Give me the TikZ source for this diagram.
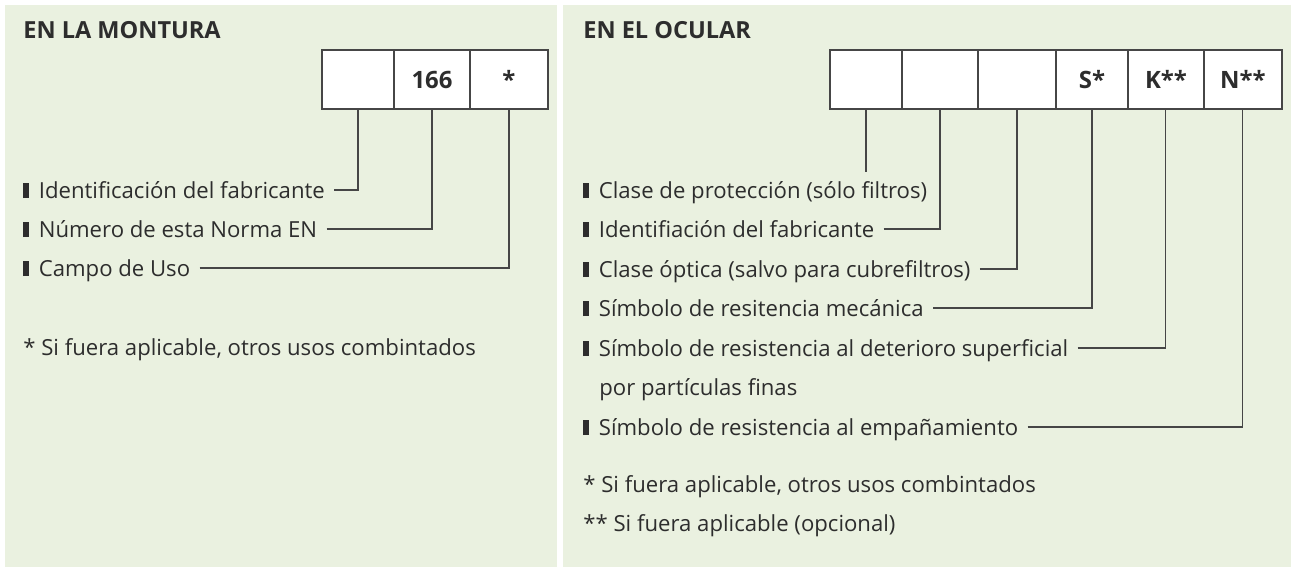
\documentclass[tikz,border=0pt]{standalone}
\usepackage{fontspec}
\setmainfont{Open Sans}
\usetikzlibrary{positioning}

\definecolor{panelgreen}{RGB}{234,241,224}
\definecolor{inkgray}{RGB}{45,45,45}
\definecolor{linegray}{RGB}{70,70,70}

\newcommand{\bul}{\rule{0.11cm}{0.3cm}\hspace{0.2cm}}

\tikzset{
  heading/.style={anchor=base west, inner sep=0, text=inkgray,
                  font=\fontsize{13.4}{16}\selectfont\bfseries},
  cell/.style={draw=linegray, line width=0.8pt, fill=white, inner sep=0,
               outer sep=0, minimum height=1.18cm, text=inkgray,
               font=\fontsize{13.6}{16}\selectfont\bfseries},
  item/.style={anchor=base west, inner sep=0, text height=0.32cm,
               text depth=0pt, text=inkgray,
               font=\fontsize{12.6}{14}\selectfont},
  conn/.style={draw=linegray, line width=0.6pt}
}

\begin{document}
\begin{tikzpicture}[x=0.02cm, y=-0.02cm]
  \useasboundingbox (0,0) rectangle (1297,572);
  \fill [panelgreen] (5,5) rectangle (557,567);
  \fill [panelgreen] (563,5) rectangle (1291,567);

  % frame
  \node [heading] (tmont) at (23,38) {EN LA MONTURA};
  \node [cell, minimum width=1.44cm] (m1) at (358,79.5) {};
  \node [cell, minimum width=1.52cm, right=0pt of m1] (m2) {166};
  \node [cell, minimum width=1.56cm, right=0pt of m2] (m3) {*};

  \node [item] (l1) at (23,198) {\bul Identificación del fabricante};
  \node [item] (l2) at (23,237) {\bul Número de esta Norma EN};
  \node [item] (l3) at (23,276) {\bul Campo de Uso};
  \node [item] (lnote) at (23,355) {* Si fuera aplicable, otros usos combintados};

  \draw [conn, shorten <=0.18cm] (l1.east) -| (m1.south);
  \draw [conn, shorten <=0.18cm] (l2.east) -| (m2.south);
  \draw [conn, shorten <=0.18cm] (l3.east) -| (m3.south);

  % ocular
  \node [heading] (tocul) at (583,38) {EN EL OCULAR};
  \node [cell, minimum width=1.44cm] (o1) at (866,79.5) {};
  \node [cell, minimum width=1.52cm, right=0pt of o1] (o2) {};
  \node [cell, minimum width=1.56cm, right=0pt of o2] (o3) {};
  \node [cell, minimum width=1.44cm, right=0pt of o3] (o4) {S*};
  \node [cell, minimum width=1.52cm, right=0pt of o4] (o5) {K**};
  \node [cell, minimum width=1.56cm, right=0pt of o5] (o6) {N**};

  \node [item] (r1) at (583,198) {\bul Clase de protección (sólo filtros)};
  \node [item] (r2) at (583,237) {\bul Identifiación del fabricante};
  \node [item] (r3) at (583,277) {\bul Clase óptica (salvo para cubrefiltros)};
  \node [item] (r4) at (583,316) {\bul Símbolo de resitencia mecánica};
  \node [item] (r5) at (583,356) {\bul Símbolo de resistencia al deterioro superficial};
  \node [item] (r5b) at (599,395) {por partículas finas};
  \node [item] (r6) at (583,435) {\bul Símbolo de resistencia al empañamiento};
  \node [item] (rnote1) at (583,492) {* Si fuera aplicable, otros usos combintados};
  \node [item] (rnote2) at (583,531) {** Si fuera aplicable (opcional)};

  \draw [conn, shorten >=0.2cm] (o1.south) -- (o1.south |- r1.north);
  \draw [conn, shorten <=0.18cm] (r2.east) -| (o2.south);
  \draw [conn, shorten <=0.18cm] (r3.east) -| (o3.south);
  \draw [conn, shorten <=0.18cm] (r4.east) -| (o4.south);
  \draw [conn, shorten <=0.18cm] (r5.east) -| (o5.south);
  \draw [conn, shorten <=0.18cm] (r6.east) -| (o6.south);
\end{tikzpicture}
\end{document}
